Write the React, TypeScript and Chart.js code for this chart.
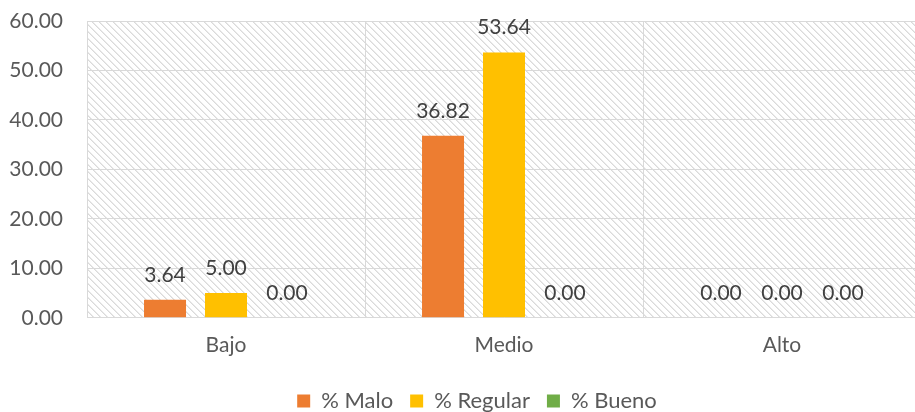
import React, { useEffect, useRef } from 'react';
import { Chart, registerables } from 'chart.js';

Chart.register(...registerables);

const categories = ['Bajo', 'Medio', 'Alto'];
const seriesNames = ['% Malo', '% Regular', '% Bueno'];
const malo = [3.64, 36.82, 0.0];
const regular = [5.0, 53.64, 0.0];
const bueno = [0.0, 0.0, 0.0];
const seriesColors = ['#ED7D31', '#FFC000', '#70AD47'];

const FONT = 'Lato, "Open Sans", sans-serif';

function makeHatch(): CanvasPattern | string {
  const n = 7;
  const c = document.createElement('canvas');
  c.width = n;
  c.height = n;
  const ctx = c.getContext('2d');
  if (!ctx) return '#ffffff';
  ctx.fillStyle = '#ffffff';
  ctx.fillRect(0, 0, n, n);
  for (let y = 0; y < n; y++) {
    for (let x = 0; x < n; x++) {
      const d = (((x - y) % n) + n) % n;
      if (d === 0) {
        ctx.fillStyle = '#DADADA';
        ctx.fillRect(x, y, 1, 1);
      } else if (d === 1) {
        ctx.fillStyle = '#EAEAEA';
        ctx.fillRect(x, y, 1, 1);
      }
    }
  }
  const p = ctx.createPattern(c, 'repeat');
  return p || '#ffffff';
}

export default function App() {
  const ref = useRef<HTMLCanvasElement | null>(null);

  useEffect(() => {
    document.body.style.overflow = 'hidden';
    const canvas = ref.current;
    if (!canvas) return;
    const hatch = makeHatch();

    const hatchPlugin = {
      id: 'hatchBg',
      beforeDraw(chart: any) {
        const { ctx, chartArea } = chart;
        if (!chartArea) return;
        ctx.save();
        ctx.fillStyle = hatch;
        ctx.fillRect(chartArea.left, chartArea.top, chartArea.right - chartArea.left, chartArea.bottom - chartArea.top);
        ctx.restore();
      },
    };

    const labelPlugin = {
      id: 'valueLabels',
      afterDatasetsDraw(chart: any) {
        const { ctx } = chart;
        ctx.save();
        ctx.font = `21px ${FONT}`;
        ctx.fillStyle = '#404040';
        ctx.textAlign = 'center';
        ctx.textBaseline = 'alphabetic';
        chart.data.datasets.forEach((ds: any, i: number) => {
          const meta = chart.getDatasetMeta(i);
          meta.data.forEach((el: any, j: number) => {
            const v = Number(ds.data[j]);
            ctx.fillText(v.toFixed(2), el.x, el.y - 18);
          });
        });
        ctx.restore();
      },
    };

    const chart = new Chart(canvas, {
      type: 'bar',
      data: {
        labels: categories,
        datasets: [
          { label: seriesNames[0], data: malo, backgroundColor: seriesColors[0] },
          { label: seriesNames[1], data: regular, backgroundColor: seriesColors[1] },
          { label: seriesNames[2], data: bueno, backgroundColor: seriesColors[2] },
        ],
      },
      options: {
        animation: false,
        responsive: true,
        maintainAspectRatio: false,
        layout: { padding: { top: 21, right: 0, left: 0, bottom: 2 } },
        datasets: {
          bar: { categoryPercentage: 0.658, barPercentage: 0.689, borderWidth: 0 },
        },
        scales: {
          x: {
            grid: { color: '#D9D9D9', offset: true, drawTicks: false },
            border: { color: '#D9D9D9' },
            ticks: { color: '#595959', font: { family: FONT, size: 21 }, padding: 15 },
          },
          y: {
            min: 0,
            max: 60,
            ticks: {
              stepSize: 10,
              color: '#595959',
              font: { family: FONT, size: 21 },
              padding: 24,
              callback: (v: any) => Number(v).toFixed(2),
            },
            grid: { color: '#D9D9D9', drawTicks: false },
            border: { color: '#D9D9D9' },
            afterFit: (s: any) => {
              s.width = 87;
              s.paddingTop = 0;
              s.paddingBottom = 0;
            },
          },
          ySpacer: {
            type: 'linear',
            position: 'right',
            display: true,
            grid: { display: false, drawTicks: false },
            border: { display: false },
            ticks: { display: false },
            afterFit: (s: any) => {
              s.width = 33;
              s.paddingTop = 0;
              s.paddingBottom = 0;
            },
          },
        },
        plugins: {
          legend: {
            position: 'bottom',
            labels: {
              boxWidth: 13,
              boxHeight: 13,
              padding: 17,
              color: '#595959',
              font: { family: FONT, size: 22 },
            },
          },
          tooltip: { enabled: false },
        },
      },
      plugins: [hatchPlugin, labelPlugin],
    });

    return () => chart.destroy();
  }, []);

  return (
    <div style={{ position: 'fixed', left: 0, top: 0, width: 954, height: 424 }}>
      <canvas ref={ref} />
    </div>
  );
}
